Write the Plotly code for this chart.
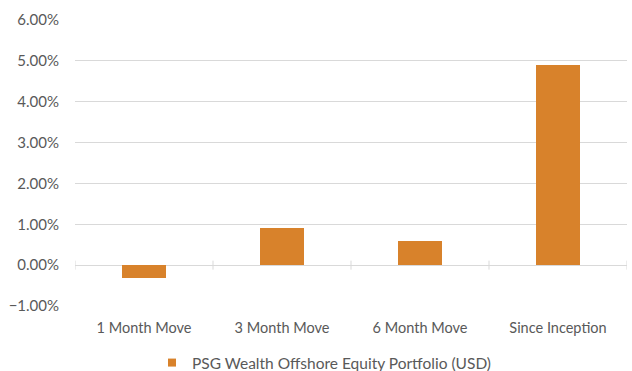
import plotly.graph_objects as go

categories = ["1 Month Move", "3 Month Move", "6 Month Move", "Since Inception"]
returns = [-0.0032, 0.0092, 0.0058, 0.0490]
series_name = "PSG Wealth Offshore Equity Portfolio (USD)"
y_ticks = [-0.01, 0.0, 0.01, 0.02, 0.03, 0.04, 0.05, 0.06]

bar_color = "#D8822B"
grid_color = "#D9D9D9"
text_color = "#595959"
font_family = "Lato, Open Sans, sans-serif"

fig = go.Figure()
fig.add_trace(go.Bar(
    x=categories,
    y=returns,
    name=series_name,
    marker=dict(color=bar_color, line=dict(width=0)),
    width=0.315,
    showlegend=False,
))
# legend entry with a small square swatch
fig.add_trace(go.Scatter(
    x=[None],
    y=[None],
    mode="markers",
    name=series_name,
    marker=dict(symbol="square", size=8, color=bar_color),
    showlegend=True,
))

# small tick marks on the zero line between categories
boundaries = [i - 0.5 for i in range(len(categories) + 1)]
shapes = [
    dict(type="line", xref="x", yref="y", x0=b, x1=b, y0=-0.0011, y1=0.0011,
         line=dict(color=grid_color, width=1), layer="below")
    for b in boundaries
]

fig.update_layout(
    width=632,
    height=371,
    margin=dict(l=75, r=5, t=20, b=65, autoexpand=False),
    paper_bgcolor="white",
    plot_bgcolor="white",
    font=dict(family=font_family, size=14, color=text_color),
    bargap=0,
    shapes=shapes,
    showlegend=True,
    legend=dict(
        orientation="h",
        xref="container", yref="container",
        x=152 / 632, xanchor="left",
        y=1 - 363 / 371, yanchor="middle",
        font=dict(size=15.5, color=text_color),
        itemwidth=30,
    ),
    xaxis=dict(
        type="category",
        range=[-0.5, len(categories) - 0.5],
        showgrid=False,
        showline=False,
        ticks="outside",
        ticklen=9,
        tickcolor="rgba(0,0,0,0)",
        tickfont=dict(size=14.5, color=text_color),
    ),
    yaxis=dict(
        range=[-0.01, 0.06],
        tickvals=y_ticks,
        tickformat=".2%",
        showgrid=True,
        gridcolor=grid_color,
        gridwidth=1,
        zeroline=True,
        zerolinecolor=grid_color,
        zerolinewidth=1,
        showline=False,
        ticks="outside",
        ticklen=12,
        tickcolor="rgba(0,0,0,0)",
        tickfont=dict(size=15, color=text_color),
    ),
)

fig.write_html("out.html")
